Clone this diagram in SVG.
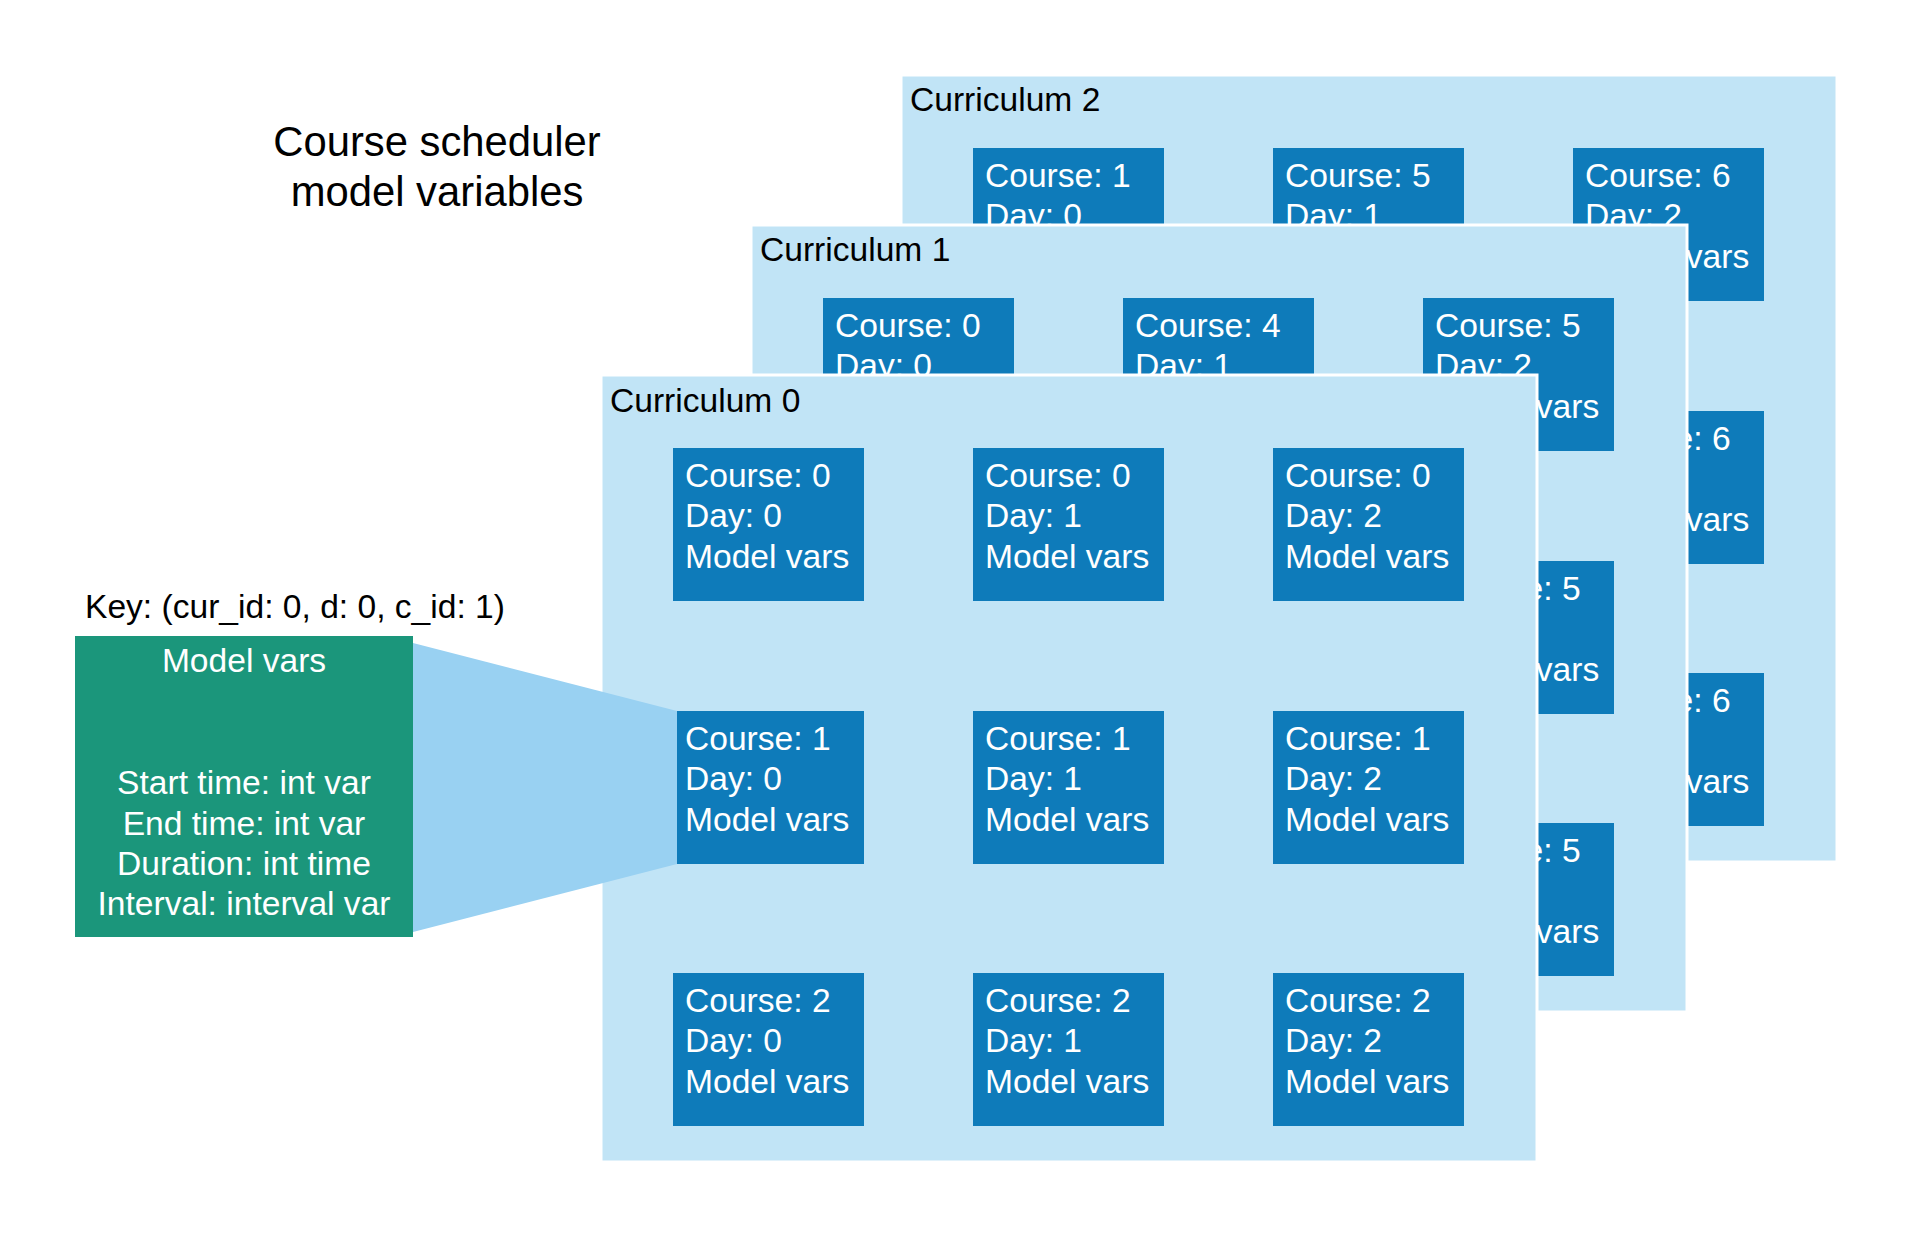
<svg xmlns="http://www.w3.org/2000/svg" width="1913" height="1238" viewBox="0 0 1913 1238">
<style>
text{font-family:"Liberation Sans",Arial,sans-serif;font-size:33.6px}
.panel{fill:#c1e4f6;stroke:#ffffff;stroke-width:3}
.box{fill:#0e7bba}
.bt{fill:#ffffff}
.lbl{fill:#000000}
.key{fill:#1b967b}
.conn{fill:#99d1f2}
</style>
<rect width="1913" height="1238" fill="#ffffff"/>
<g id="title"><text class="lbl" x="437" y="156" text-anchor="middle" style="font-size:41.8px">Course scheduler</text><text class="lbl" x="437" y="206" text-anchor="middle" style="font-size:41.8px">model variables</text></g>

<g id="curriculum2">
<rect class="panel" x="901" y="75" width="936" height="787"/>
<text class="lbl" x="910" y="111">Curriculum 2</text>
<g id="c2-r0-c0" transform="translate(973,148)"><rect class="box" width="191" height="153"/><text class="bt" x="12" y="39">Course: 1</text><text class="bt" x="12" y="79">Day: 0</text></g>
<g id="c2-r0-c1" transform="translate(1273,148)"><rect class="box" width="191" height="153"/><text class="bt" x="12" y="39">Course: 5</text><text class="bt" x="12" y="79">Day: 1</text></g>
<g id="c2-r0-c2" transform="translate(1573,148)"><rect class="box" width="191" height="153"/><text class="bt" x="12" y="39">Course: 6</text><text class="bt" x="12" y="79">Day: 2</text><text class="bt" x="12" y="120">Model vars</text></g>
<g id="c2-r1-c2" transform="translate(1573,411)"><rect class="box" width="191" height="153"/><text class="bt" x="12" y="39">Course: 6</text><text class="bt" x="12" y="120">Model vars</text></g>
<g id="c2-r2-c2" transform="translate(1573,673)"><rect class="box" width="191" height="153"/><text class="bt" x="12" y="39">Course: 6</text><text class="bt" x="12" y="120">Model vars</text></g>
</g>

<g id="curriculum1">
<rect class="panel" x="751" y="225" width="936" height="787"/>
<text class="lbl" x="760" y="261">Curriculum 1</text>
<g id="c1-r0-c0" transform="translate(823,298)"><rect class="box" width="191" height="153"/><text class="bt" x="12" y="39">Course: 0</text><text class="bt" x="12" y="79">Day: 0</text></g>
<g id="c1-r0-c1" transform="translate(1123,298)"><rect class="box" width="191" height="153"/><text class="bt" x="12" y="39">Course: 4</text><text class="bt" x="12" y="79">Day: 1</text></g>
<g id="c1-r0-c2" transform="translate(1423,298)"><rect class="box" width="191" height="153"/><text class="bt" x="12" y="39">Course: 5</text><text class="bt" x="12" y="79">Day: 2</text><text class="bt" x="12" y="120">Model vars</text></g>
<g id="c1-r1-c2" transform="translate(1423,561)"><rect class="box" width="191" height="153"/><text class="bt" x="12" y="39">Course: 5</text><text class="bt" x="12" y="120">Model vars</text></g>
<g id="c1-r2-c2" transform="translate(1423,823)"><rect class="box" width="191" height="153"/><text class="bt" x="12" y="39">Course: 5</text><text class="bt" x="12" y="120">Model vars</text></g>
</g>

<g id="curriculum0">
<rect class="panel" x="601" y="375" width="936" height="787"/>
<text class="lbl" x="610" y="412">Curriculum 0</text>
<g id="c0-r0-c0" transform="translate(673,448)"><rect class="box" width="191" height="153"/><text class="bt" x="12" y="39">Course: 0</text><text class="bt" x="12" y="79">Day: 0</text><text class="bt" x="12" y="120">Model vars</text></g>
<g id="c0-r0-c1" transform="translate(973,448)"><rect class="box" width="191" height="153"/><text class="bt" x="12" y="39">Course: 0</text><text class="bt" x="12" y="79">Day: 1</text><text class="bt" x="12" y="120">Model vars</text></g>
<g id="c0-r0-c2" transform="translate(1273,448)"><rect class="box" width="191" height="153"/><text class="bt" x="12" y="39">Course: 0</text><text class="bt" x="12" y="79">Day: 2</text><text class="bt" x="12" y="120">Model vars</text></g>
<g id="c0-r1-c0" transform="translate(673,711)"><rect class="box" width="191" height="153"/><text class="bt" x="12" y="39">Course: 1</text><text class="bt" x="12" y="79">Day: 0</text><text class="bt" x="12" y="120">Model vars</text></g>
<g id="c0-r1-c1" transform="translate(973,711)"><rect class="box" width="191" height="153"/><text class="bt" x="12" y="39">Course: 1</text><text class="bt" x="12" y="79">Day: 1</text><text class="bt" x="12" y="120">Model vars</text></g>
<g id="c0-r1-c2" transform="translate(1273,711)"><rect class="box" width="191" height="153"/><text class="bt" x="12" y="39">Course: 1</text><text class="bt" x="12" y="79">Day: 2</text><text class="bt" x="12" y="120">Model vars</text></g>
<g id="c0-r2-c0" transform="translate(673,973)"><rect class="box" width="191" height="153"/><text class="bt" x="12" y="39">Course: 2</text><text class="bt" x="12" y="79">Day: 0</text><text class="bt" x="12" y="120">Model vars</text></g>
<g id="c0-r2-c1" transform="translate(973,973)"><rect class="box" width="191" height="153"/><text class="bt" x="12" y="39">Course: 2</text><text class="bt" x="12" y="79">Day: 1</text><text class="bt" x="12" y="120">Model vars</text></g>
<g id="c0-r2-c2" transform="translate(1273,973)"><rect class="box" width="191" height="153"/><text class="bt" x="12" y="39">Course: 2</text><text class="bt" x="12" y="79">Day: 2</text><text class="bt" x="12" y="120">Model vars</text></g>
</g>

<g id="connectors">
<polygon class="conn" points="413,643 677,711 677,864 413,932"/>
</g>

<g id="key">
<text class="lbl" x="85" y="618">Key: (cur_id: 0, d: 0, c_id: 1)</text>
<rect class="key" x="75" y="636" width="338" height="301"/>
<g text-anchor="middle">
<text class="bt" x="244" y="672">Model vars</text>
<text class="bt" x="244" y="794">Start time: int var</text>
<text class="bt" x="244" y="835">End time: int var</text>
<text class="bt" x="244" y="875">Duration: int time</text>
<text class="bt" x="244" y="915">Interval: interval var</text>
</g>
</g>
</svg>
